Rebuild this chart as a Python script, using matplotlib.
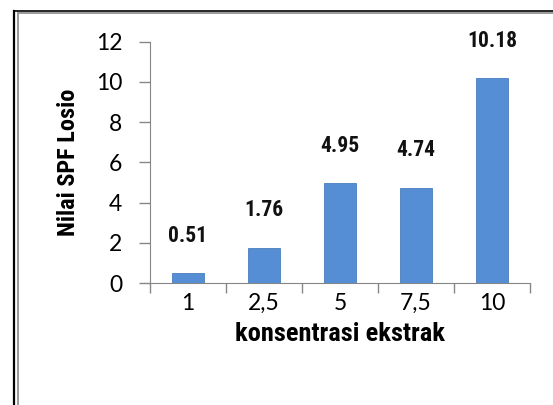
import matplotlib
matplotlib.use("Agg")
import matplotlib.pyplot as plt
from matplotlib.lines import Line2D

# data
konsentrasi = ["1", "2,5", "5", "7,5", "10"]
spf = [0.51, 1.76, 4.95, 4.74, 10.18]
spf_labels = ["0.51", "1.76", "4.95", "4.74", "10.18"]
yticks = [0, 2, 4, 6, 8, 10, 12]

# condensed bold look for the titles; first installed family wins
narrow = ["Roboto Condensed", "Liberation Sans Narrow", "Roboto"]
tickfont = "Lato"

bar_color = "#558ED5"
axis_color = "#868686"

fig = plt.figure(figsize=(5.53, 4.05), dpi=100)
ax = fig.add_axes([150 / 553, 122 / 405, 380 / 553, 241.3 / 405])

x = list(range(len(konsentrasi)))
ax.bar(x, spf, width=0.42, color=bar_color, edgecolor="#4A7EBB", linewidth=0.6, zorder=3)

for xi, v, lab in zip(x, spf, spf_labels):
    ax.text(xi, v + 1.85, lab, ha="center", va="center", fontsize=15.5,
            fontweight="bold", family=narrow, color="#111111")

ax.set_xlim(-0.5, 4.5)
ax.set_ylim(0, 12)
ax.set_yticks(yticks)
ax.set_yticklabels([str(t) for t in yticks], fontsize=16.5, family=tickfont)
ax.set_xticks(x)
ax.set_xticklabels(konsentrasi, fontsize=16.5, family=tickfont)
ax.tick_params(axis="x", length=0, pad=7)
ax.tick_params(axis="y", length=8, width=1, color=axis_color, pad=12)
# category boundary ticks on the x axis
ax.set_xticks([-0.5, 0.5, 1.5, 2.5, 3.5, 4.5], minor=True)
ax.tick_params(axis="x", which="minor", length=7, width=1, color=axis_color)

for s in ["top", "right"]:
    ax.spines[s].set_visible(False)
ax.spines["left"].set_color(axis_color)
ax.spines["bottom"].set_color(axis_color)

ax.set_xlabel("konsentrasi ekstrak", fontsize=19, fontweight="bold", family=narrow, labelpad=6)
ax.set_ylabel("Nilai SPF Losio", fontsize=17.5, fontweight="bold", family=narrow, labelpad=11)

# outer frame (cropped at right and bottom)
W, H = 553, 405
fig.add_artist(Line2D([14 / W, 14 / W], [0, 1 - 10.5 / H], color="black", linewidth=1.6, transform=fig.transFigure))
fig.add_artist(Line2D([14 / W, 1], [1 - 10.5 / H, 1 - 10.5 / H], color="black", linewidth=1.2, transform=fig.transFigure))
fig.add_artist(Line2D([18 / W, 18 / W], [0, 1 - 12.5 / H], color="#9A9A9A", linewidth=1.4, transform=fig.transFigure))
fig.add_artist(Line2D([18 / W, 1], [1 - 12.5 / H, 1 - 12.5 / H], color="#9A9A9A", linewidth=1.4, transform=fig.transFigure))

fig.savefig("out.png", dpi=100)
